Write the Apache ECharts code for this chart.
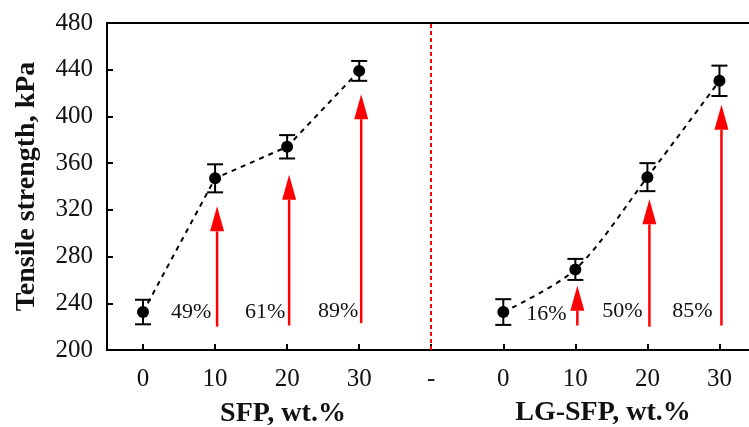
<!DOCTYPE html>
<html>
<head>
<meta charset="utf-8">
<script src="https://cdn.jsdelivr.net/npm/echarts@6/dist/echarts.min.js"></script>
<style>
    html, body { margin: 0; padding: 0; background: #fff; }
    #chart { width: 749px; height: 427px; }
</style>
</head>
<body>
<div id="chart"></div>
<script>
// x 轴分类（左：SFP，中间分隔，右：LG-SFP）
var categories = ['0', '10', '20', '30', '-', '0', '10', '20', '30'];
var yTicks = [200, 240, 280, 320, 360, 400, 440, 480];

// 拉伸强度 kPa
var sfpIndex = [0, 1, 2, 3];
var sfpMean = [232.5, 347, 374, 439];
var sfpErr = [10.5, 12, 10, 8.5];

var lgIndex = [5, 6, 7, 8];
var lgMean = [232.5, 269, 348, 430.5];
var lgErr = [11, 9, 12, 13];

// 红色箭头（起点、终点）和百分比标注
var arrowIndex = [1, 2, 3, 6, 7, 8];
var arrowFrom = [220, 221, 223, 221, 220, 221];
var arrowTo = [323, 350, 419, 255, 329, 410];
var arrowText = ['49%', '61%', '89%', '16%', '50%', '85%'];
var textValue = [232, 232, 233, 231, 233, 233];
var textShift = [-24, -22, -21, -29, -25, -27];

var serif = '"Liberation Serif", "DejaVu Serif", serif';
var tickPos = categories.map(function (c, i) { return i; });

var pairs = function (idx, vals) {
    return idx.map(function (x, i) { return [x, vals[i]]; });
};
var errData = function (idx, mean, err) {
    return idx.map(function (x, i) { return [x, mean[i] - err[i], mean[i] + err[i]]; });
};

// 误差棒
var renderErr = function (params, api) {
    var lo = api.coord([api.value(0), api.value(1)]);
    var hi = api.coord([api.value(0), api.value(2)]);
    var hw = 8;
    var st = { stroke: '#000', lineWidth: 2 };
    return {
        type: 'group',
        children: [
            { type: 'line', shape: { x1: lo[0], y1: lo[1], x2: hi[0], y2: hi[1] }, style: st },
            { type: 'line', shape: { x1: lo[0] - hw, y1: lo[1], x2: lo[0] + hw, y2: lo[1] }, style: st },
            { type: 'line', shape: { x1: hi[0] - hw, y1: hi[1], x2: hi[0] + hw, y2: hi[1] }, style: st }
        ]
    };
};

// 红箭头 + 百分比
var renderArrow = function (params, api) {
    var i = params.dataIndex;
    var a = api.coord([api.value(0), api.value(1)]);
    var b = api.coord([api.value(0), api.value(2)]);
    var t = api.coord([api.value(0), textValue[i]]);
    var x = a[0] + 2;
    var headLen = 25, headW = 7;
    var baseY = b[1] + headLen;
    return {
        type: 'group',
        children: [
            { type: 'line', shape: { x1: x, y1: a[1], x2: x, y2: baseY }, style: { stroke: '#ff0000', lineWidth: 2.5 } },
            { type: 'polygon', shape: { points: [[x, b[1]], [x - headW, baseY], [x + headW, baseY]] }, style: { fill: '#ff0000' } },
            { type: 'text', x: a[0] + textShift[i], y: t[1],
              style: { text: arrowText[i], fill: '#111', font: '22px ' + serif, align: 'center', verticalAlign: 'middle' } }
        ]
    };
};

var chart = echarts.init(document.getElementById('chart'));

var option = {
    backgroundColor: '#fff',
    animation: false,
    grid: { left: 107, top: 23, right: 0, height: 327 },
    xAxis: [{
        type: 'value',
        min: -0.5,
        max: 8.41,
        axisLine: { onZero: false, lineStyle: { color: '#000', width: 2 } },
        axisTick: { show: true, inside: true, length: 6, customValues: tickPos, lineStyle: { color: '#000', width: 2 } },
        axisLabel: {
            color: '#111', fontFamily: serif, fontSize: 25, margin: 17,
            customValues: tickPos,
            formatter: function (v) { return categories[Math.round(v)]; }
        },
        splitLine: { show: false }
    }, {
        type: 'value',
        position: 'top',
        min: -0.5,
        max: 8.41,
        axisLine: { show: true, onZero: false, lineStyle: { color: '#000', width: 2 } },
        axisTick: { show: false },
        axisLabel: { show: false },
        splitLine: { show: false }
    }],
    yAxis: {
        type: 'value',
        min: yTicks[0],
        max: yTicks[yTicks.length - 1],
        interval: 40,
        name: 'Tensile strength, kPa',
        nameLocation: 'middle',
        nameGap: 66,
        nameTextStyle: { color: '#111', fontFamily: serif, fontSize: 28, fontWeight: 'bold' },
        axisLine: { show: true, onZero: false, lineStyle: { color: '#000', width: 2 } },
        axisTick: { show: true, inside: true, length: 6, lineStyle: { color: '#000', width: 2 } },
        axisLabel: { color: '#111', fontFamily: serif, fontSize: 25, margin: 14 },
        splitLine: { show: false }
    },
    graphic: [
        { type: 'text', x: 283, y: 414,
          style: { text: 'SFP, wt.%', fill: '#111', font: 'bold 28px ' + serif, align: 'center', verticalAlign: 'middle' } },
        { type: 'text', x: 603, y: 413,
          style: { text: 'LG-SFP, wt.%', fill: '#111', font: 'bold 28px ' + serif, align: 'center', verticalAlign: 'middle' } }
    ],
    series: [
        {
            type: 'custom',
            renderItem: renderArrow,
            data: arrowIndex.map(function (x, i) { return [x, arrowFrom[i], arrowTo[i]]; }),
            z: 2
        },
        {
            type: 'line',
            data: pairs(sfpIndex, sfpMean),
            symbol: 'circle', symbolSize: 12,
            itemStyle: { color: '#000' },
            lineStyle: { color: '#000', width: 2, type: [5, 5] },
            z: 3,
            markLine: {
                silent: true, symbol: 'none', label: { show: false },
                lineStyle: { color: '#ff0000', width: 2, type: [4, 3] },
                data: [{ xAxis: 4 }]
            }
        },
        {
            type: 'line',
            data: pairs(lgIndex, lgMean),
            smooth: 0.3,
            symbol: 'circle', symbolSize: 12,
            itemStyle: { color: '#000' },
            lineStyle: { color: '#000', width: 2, type: [5, 5] },
            z: 3
        },
        {
            type: 'custom',
            renderItem: renderErr,
            data: errData(sfpIndex, sfpMean, sfpErr).concat(errData(lgIndex, lgMean, lgErr)),
            z: 4
        }
    ]
};
chart.setOption(option);
</script>
</body>
</html>
